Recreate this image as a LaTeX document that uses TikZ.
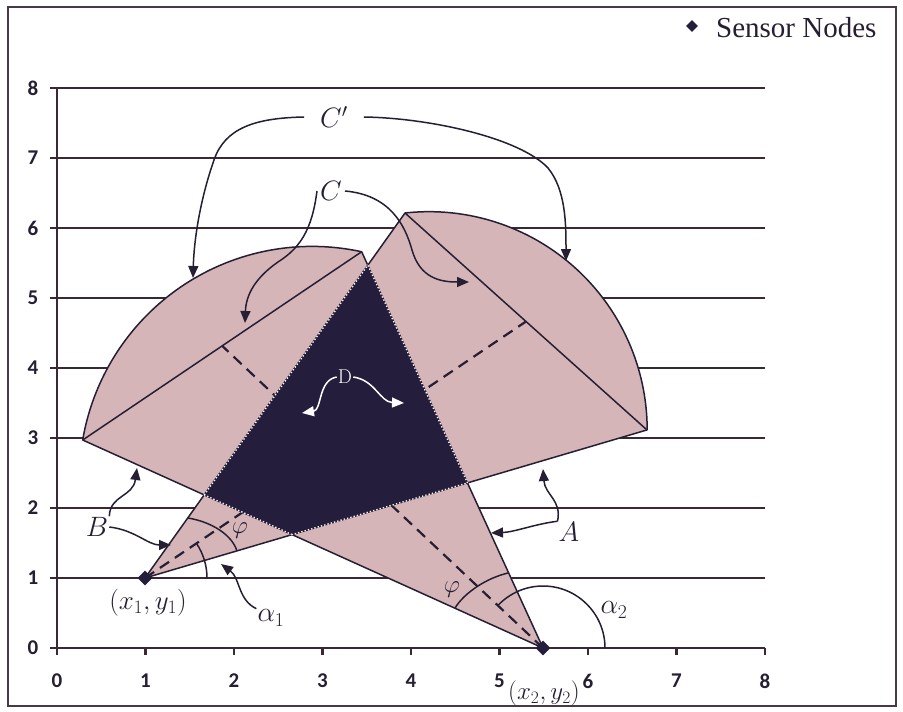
\RequirePackage{fix-cm}
\documentclass[tikz,border=0pt]{standalone}
\usepackage{fontspec}
\newfontfamily\tickfont{Carlito}
\newfontfamily\legfont{Liberation Serif}
\usetikzlibrary{arrows.meta,shapes.geometric}
\definecolor{pinkfill}{HTML}{D6B5B8}
\definecolor{darkfill}{HTML}{241D3B}
\definecolor{gridc}{HTML}{3A2832}
\definecolor{inkc}{HTML}{261F33}
\begin{document}
\begin{tikzpicture}[x=1pt,y=-1pt,
  gridline/.style={draw=gridc,line width=2.2pt},
  edge/.style={draw=inkc,line width=1.5pt,line join=round},
  bis/.style={draw=inkc,line width=2.2pt,dash pattern=on 11pt off 7pt},
  ann/.style={draw=inkc,line width=1.5pt,-{Triangle[length=12pt,width=10pt]}},
  wann/.style={draw=white,line width=1.5pt,-{Triangle[length=12pt,width=10pt,fill=white]}},
  lab/.style={text=inkc,font=\fontsize{28}{32}\selectfont,inner sep=1pt},
  ticklab/.style={text=inkc,font=\tickfont\bfseries\fontsize{21}{24}\selectfont,inner sep=0pt},
  sensor/.style={diamond,fill=darkfill,inner sep=0pt,minimum size=15pt},
  angarc/.style={draw=inkc,line width=1.5pt},
  darkedge/.style={draw=white!75!pinkfill,line width=1.4pt,dotted}]
\useasboundingbox (0,0) rectangle (903,712);
\fill[white] (0,0) rectangle (903,712);
\draw[draw=gridc!80!gray,line width=1.8pt] (8,7) rectangle (896,706);

% grid and axes
\foreach \i in {1,...,8}{\draw[gridline] (57,{648-70*\i}) -- (765,{648-70*\i});}
\draw[gridline] (57,88) -- (57,648) -- (765,648);
\foreach \i in {0,...,8}{
  \draw[gridline] ({57+88.5*\i},648) -- ++(0,7);
  \node[ticklab] (xl\i) at ({57+88.5*\i},681) {\i};
  \draw[gridline] (57,{648-70*\i}) -- ++(-7,0);
  \node[ticklab] (yl\i) at (33,{648-70*\i}) {\i};
}

% key points
\coordinate (S1) at (145,578);
\coordinate (S2) at (543,648);
\coordinate (A1) at (405,213);
\coordinate (B1) at (647,430);
\coordinate (A2) at (82.7,440);
\coordinate (B2) at (361.7,251.7);
\coordinate (M1) at (526,321.5);
\coordinate (M2) at (222.2,345.9);

% sectors
\fill[pinkfill] (S1) -- (A1) arc[start angle=-96.31,end angle=0,radius=218.2] -- cycle;
\fill[pinkfill] (S2) -- (A2) arc[start angle=-170.35,end angle=-77.67,radius=232.6] -- cycle;
\draw[edge] (S1) -- (A1) arc[start angle=-96.31,end angle=0,radius=218.2] -- cycle;
\draw[edge] (S2) -- (A2) arc[start angle=-170.35,end angle=-77.67,radius=232.6] -- cycle;
\draw[edge] (A1) -- (B1);
\draw[edge] (A2) -- (B2);
\draw[bis] (S1) -- (M1);
\draw[bis] (S2) -- (M2);

% overlap D
\begin{scope}
  \clip (S1) -- (A1) -- (B1) -- cycle;
  \fill[darkfill] (S2) -- (A2) -- (B2) -- cycle;
  \draw[darkedge] (S2) -- (A2) -- (B2) -- cycle;
\end{scope}
\begin{scope}
  \clip (S2) -- (A2) -- (B2) -- cycle;
  \draw[darkedge] (S1) -- (A1) -- (B1) -- cycle;
\end{scope}

% angle marks
\draw[angarc] (188,518) .. controls (212,522) and (232,535) .. (237,551);
\draw[angarc] (455,608) .. controls (465,592) and (487,578) .. (508,573);
\draw[angarc] (207,578) arc[start angle=0,end angle=-34,radius=62];
\draw[angarc] (605,648) arc[start angle=0,end angle=-136.7,radius=62];

% sensors
\node[sensor] (n1) at (S1) {};
\node[sensor] (n2) at (S2) {};

% legend
\node[sensor,minimum size=12pt] (legmark) at (692,26) {};
\node[anchor=west,text=inkc,font=\legfont\fontsize{29}{32}\selectfont,inner sep=0pt] (legtext) at (716,28) {Sensor Nodes};

% labels
\node[lab,inner xsep=16pt] (Cp) at (334,117) {$C'$};
\node[lab,inner xsep=3pt] (C) at (331,191) {$C$};
\node[lab] (A) at (569,532) {$A$};
\node[lab] (B) at (97,527) {$B$};
\node[text=white,font=\fontsize{20}{22}\selectfont,inner sep=1pt] (D) at (345,377) {D};
\node[lab,font=\fontsize{25}{28}\selectfont] (phi1) at (240,531) {$\varphi$};
\node[lab,font=\fontsize{25}{28}\selectfont] (phi2) at (452,590) {$\varphi$};
\node[lab] (al1) at (271,618) {$\alpha_1$};
\node[lab] (al2) at (614,610) {$\alpha_2$};
\node[lab,font=\fontsize{27}{30}\selectfont] (p1) at (148,603) {$(x_1,y_1)$};
\node[lab,font=\fontsize{25}{28}\selectfont,inner sep=0pt] (p2) at (544,693) {$(x_2,y_2)$};

% arrow tips
\coordinate (tCpL) at (193,278);
\coordinate (tCpR) at (566,261);
\coordinate (tCL) at (245,323);
\coordinate (tCR) at (469,282);
\coordinate (tDL) at (302,413);
\coordinate (tDR) at (404,403);
\coordinate (tBU) at (137,468);
\coordinate (tBR) at (171,545);
\coordinate (tAU) at (543,469);
\coordinate (tAL) at (491,533);
\coordinate (tal1) at (221,564);

% annotation arrows
\draw[ann] (Cp.west) .. controls (255,118) and (225,128) .. (214,160) .. controls (200,200) and (194,240) .. (tCpL);
\draw[ann] (Cp.east) .. controls (430,118) and (520,138) .. (548,168) .. controls (566,190) and (566,225) .. (tCpR);
\draw[ann] (C.west) .. controls (312,230) and (300,248) .. (278,262) .. controls (255,278) and (246,295) .. (tCL);
\draw[ann] (C.east) .. controls (390,195) and (405,225) .. (412,250) .. controls (420,278) and (440,282) .. (tCR);
\draw[wann] (D.west) .. controls (318,380) and (322,410) .. (tDL);
\draw[wann] (D.east) .. controls (375,380) and (380,402) .. (tDR);
\draw[ann] (B.north east) .. controls (110,495) and (133,497) .. (tBU);
\draw[ann] (B.east) .. controls (135,530) and (148,545) .. (tBR);
\draw[ann] (A.north west) .. controls (562,500) and (545,495) .. (tAU);
\draw[ann] (A.north west) .. controls (535,524) and (515,532) .. (tAL);
\draw[ann] (al1.north west) .. controls (238,600) and (240,578) .. (tal1);
\end{tikzpicture}
\end{document}
